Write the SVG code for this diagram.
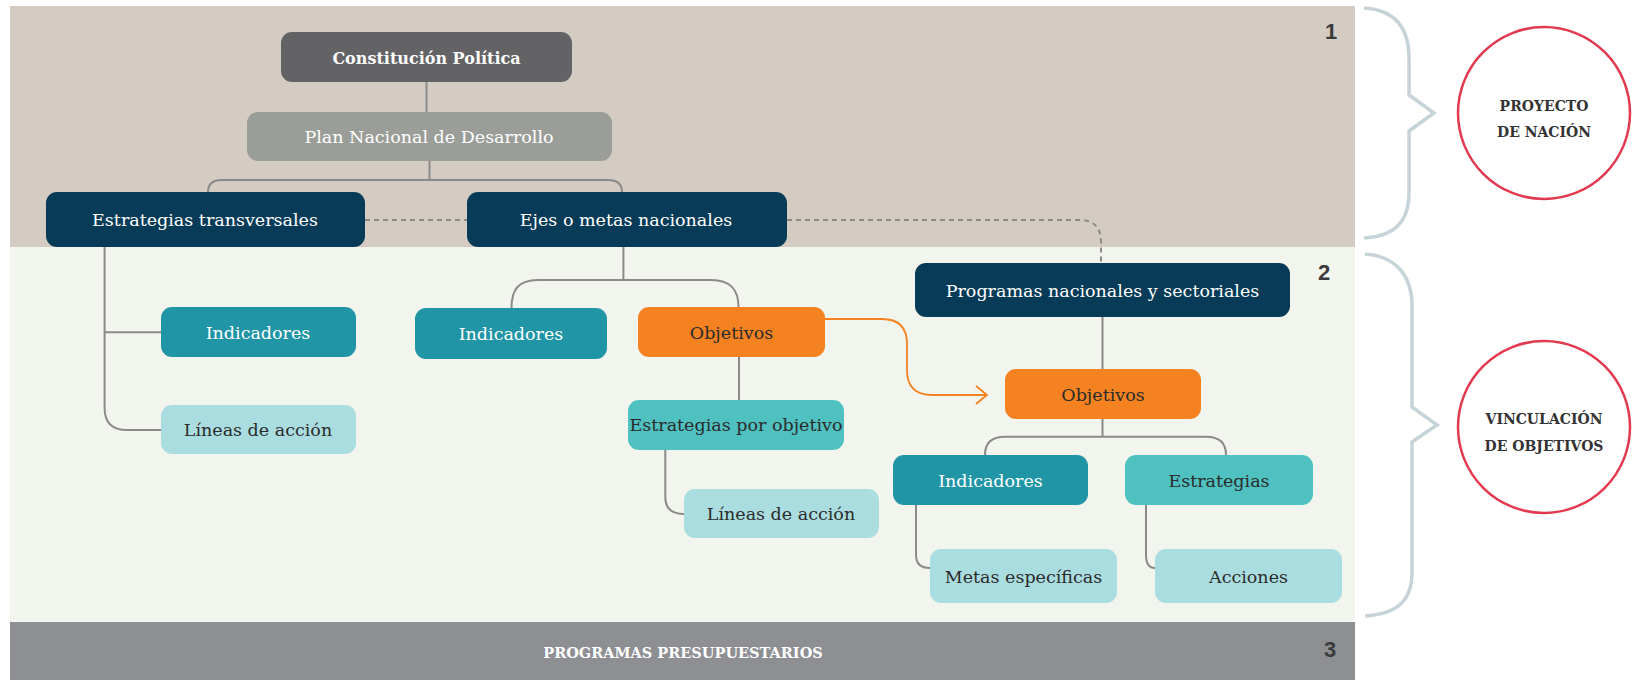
<svg xmlns="http://www.w3.org/2000/svg" width="1634" height="680" viewBox="0 0 1634 680">
<defs>
<style>
.t{font-family:"DejaVu Serif","Liberation Serif",serif;font-size:17.5px;text-anchor:middle}
.w{fill:#ffffff}
.d{fill:#2b2b2b}
.b{font-weight:bold}
.c{fill:none;stroke:#8a8a8a;stroke-width:2}
.dash{fill:none;stroke:#8a8a8a;stroke-width:2;stroke-dasharray:5 4}
.brace{fill:none;stroke:#c6d3d8;stroke-width:3.5;stroke-linejoin:miter}
.ring{fill:#ffffff;stroke:#e3394f;stroke-width:2.5}
.ct{font-family:"DejaVu Serif","Liberation Serif",serif;font-size:14px;font-weight:bold;fill:#333333;text-anchor:middle}
.num{font-family:"Liberation Sans","DejaVu Sans",sans-serif;font-size:22px;font-weight:bold;fill:#3a3a3a;text-anchor:middle}
.navy{fill:#073b57}.tdk{fill:#1f95a5}.tmd{fill:#4fc1c0}.tlt{fill:#aadddf}.org{fill:#f48221}
</style>
<marker id="chev" markerUnits="userSpaceOnUse" markerWidth="16" markerHeight="22" refX="12" refY="10" orient="auto">
<path d="M1,1 L12,10 L1,19" fill="none" stroke="#f48221" stroke-width="1.8"/>
</marker>
</defs>

<g id="bands">
<rect x="10" y="6" width="1345" height="241" fill="#d4ccc2"/>
<rect x="10" y="247" width="1345" height="375" fill="#f2f4ee"/>
<rect x="10" y="622" width="1345" height="58" fill="#8e8f93"/>
<text class="num" x="1331" y="38.5">1</text>
<text class="num" x="1324" y="280">2</text>
<text class="num" x="1330" y="657">3</text>
<text class="t w b" x="683" y="658" style="font-size:14.5px">PROGRAMAS PRESUPUESTARIOS</text>
</g>

<g id="connectors">
<path class="c" d="M426.5,82 V112"/>
<path class="c" d="M429.5,161 V180 M208,192 Q208,180 222,180 H608 Q622,180 622,192"/>
<path class="dash" d="M365,220 H467"/>
<path class="dash" d="M787,220 H1079 Q1101,220 1101,242 V263"/>
<path class="c" d="M104.6,247 V408 Q104.6,430 127,430 H161 M104.6,332.3 H161"/>
<path class="c" d="M623.4,247 V280 M511.5,308 C511.5,290 518,280 538,280 H711 C731,280 738.5,290 738.5,307"/>
<path class="c" d="M739,357 V400"/>
<path class="c" d="M665.3,450 V497 Q665.3,514 684,514"/>
<path class="c" d="M1102.5,317 V369"/>
<path class="c" d="M1102.5,419 V436.7 M985,455 Q985,436.7 1005,436.7 H1206 Q1226,436.7 1226,455"/>
<path class="c" d="M916,505 V555 Q916,568 930,568"/>
<path class="c" d="M1146,505 V555 Q1146,568 1155,568"/>
<path d="M825,319 H882 Q907,319 907,344 V370 Q907,395 932,395 H987" fill="none" stroke="#f48221" stroke-width="1.8" marker-end="url(#chev)"/>
</g>

<g id="n-constitucion"><rect x="281" y="32" width="291" height="50" rx="11" fill="#636366"/><text class="t w b" x="426.5" y="63.5" style="font-size:16px">Constitución Política</text></g>
<g id="n-plan"><rect x="247" y="112" width="365" height="49" rx="11" fill="#9b9e98"/><text class="t w" x="429" y="143">Plan Nacional de Desarrollo</text></g>
<g id="n-estrategias-transversales"><rect x="46" y="192" width="319" height="55" rx="11" class="navy"/><text class="t w" x="205" y="226">Estrategias transversales</text></g>
<g id="n-ejes"><rect x="467" y="192" width="320" height="55" rx="11" class="navy"/><text class="t w" x="626" y="226">Ejes o metas nacionales</text></g>
<g id="n-indicadores-1"><rect x="161" y="307" width="195" height="50" rx="11" class="tdk"/><text class="t w" x="258" y="338.5">Indicadores</text></g>
<g id="n-lineas-1"><rect x="161" y="405" width="195" height="49" rx="11" class="tlt"/><text class="t d" x="258" y="436">Líneas de acción</text></g>
<g id="n-indicadores-2"><rect x="415" y="308" width="192" height="51" rx="11" class="tdk"/><text class="t w" x="511" y="340">Indicadores</text></g>
<g id="n-objetivos-1"><rect x="638" y="307" width="187" height="50" rx="11" class="org"/><text class="t d" x="731.5" y="338.5">Objetivos</text></g>
<g id="n-estrategias-objetivo"><rect x="628" y="400" width="216" height="50" rx="11" class="tmd"/><text class="t d" x="736" y="431">Estrategias por objetivo</text></g>
<g id="n-lineas-2"><rect x="684" y="489" width="195" height="49" rx="11" class="tlt"/><text class="t d" x="781" y="520">Líneas de acción</text></g>
<g id="n-programas"><rect x="915" y="263" width="375" height="54" rx="11" class="navy"/><text class="t w" x="1102.5" y="296.5">Programas nacionales y sectoriales</text></g>
<g id="n-objetivos-2"><rect x="1005" y="369" width="196" height="50" rx="11" class="org"/><text class="t d" x="1103" y="400.5">Objetivos</text></g>
<g id="n-indicadores-3"><rect x="893" y="455" width="195" height="50" rx="11" class="tdk"/><text class="t w" x="990.5" y="486.5">Indicadores</text></g>
<g id="n-estrategias"><rect x="1125" y="455" width="188" height="50" rx="11" class="tmd"/><text class="t d" x="1219" y="486.5">Estrategias</text></g>
<g id="n-metas"><rect x="930" y="549" width="187" height="54" rx="11" class="tlt"/><text class="t d" x="1023.5" y="582.5">Metas específicas</text></g>
<g id="n-acciones"><rect x="1155" y="549" width="187" height="54" rx="11" class="tlt"/><text class="t d" x="1248.5" y="582.5">Acciones</text></g>

<g id="brace-1"><path class="brace" d="M1364,8 C1395,10 1409,28 1409,58 V95 L1434,113 L1409,131 V192 C1409,222 1395,236 1364,238"/></g>
<g id="brace-2"><path class="brace" d="M1365,254 C1396,256 1412,276 1412,306 V407 L1437,425 L1412,442 V572 C1412,602 1396,614 1365,616"/></g>
<g id="proyecto-nacion"><circle class="ring" cx="1544" cy="113" r="86"/><text class="ct" x="1544" y="110.5">PROYECTO</text><text class="ct" x="1544" y="136.5">DE NACIÓN</text></g>
<g id="vinculacion"><circle class="ring" cx="1544" cy="427" r="86"/><text class="ct" x="1544" y="424">VINCULACIÓN</text><text class="ct" x="1544" y="451">DE OBJETIVOS</text></g>
</svg>
